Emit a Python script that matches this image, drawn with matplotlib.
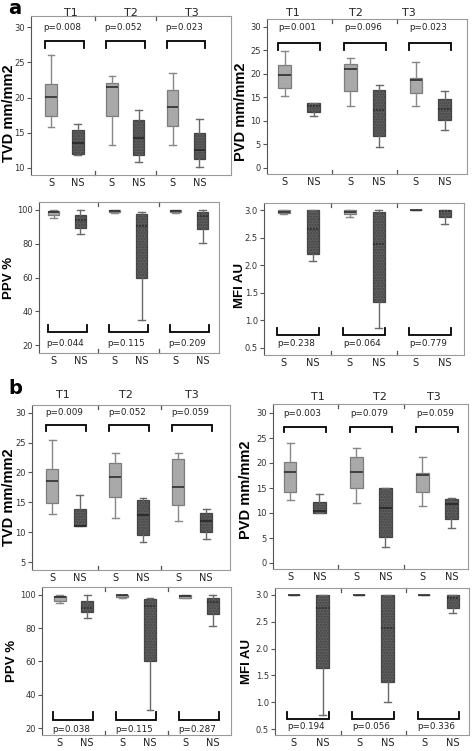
import matplotlib.pyplot as plt
from matplotlib.transforms import blended_transform_factory

W, H = 473, 751

time_points = ['T1', 'T2', 'T3']
arm_labels = ['S', 'NS', 'S', 'NS', 'S', 'NS']

# (low whisker, q1, median, q3, high whisker), order: T1 S, T1 NS, T2 S, T2 NS, T3 S, T3 NS
tvd_a = [[15.8, 17.4, 20.1, 22.0, 26.1], [11.9, 12.0, 13.5, 15.4, 16.2],
         [13.2, 17.4, 21.5, 22.1, 23.1], [10.9, 11.8, 14.2, 16.8, 18.3],
         [13.2, 15.9, 18.6, 21.1, 23.5], [10.1, 11.3, 12.6, 14.9, 17.0]]
pvd_a = [[15.4, 17.1, 19.7, 21.9, 24.9], [11.1, 11.8, 13.1, 13.8, 13.8],
         [13.1, 16.3, 21.1, 22.1, 23.3], [4.5, 6.8, 12.4, 16.6, 17.7],
         [13.1, 15.9, 18.8, 19.1, 22.5], [8.1, 10.2, 12.5, 14.6, 16.3]]
ppv_a = [[95.5, 97.0, 98.6, 99.4, 100], [85.6, 89.5, 94.1, 97.0, 100],
         [98.4, 99.0, 99.6, 99.8, 100], [34.8, 59.5, 90.7, 97.6, 98.6],
         [98.2, 98.6, 99.4, 99.8, 100], [80.6, 88.5, 96.4, 98.6, 100]]
mfi_a = [[2.93, 2.94, 2.96, 3.0, 3.0], [2.08, 2.20, 2.66, 3.0, 3.0],
         [2.87, 2.93, 2.96, 3.0, 3.0], [0.86, 1.34, 2.38, 2.97, 3.0],
         [3.0, 3.0, 3.0, 3.0, 3.0], [2.75, 2.88, 2.99, 3.0, 3.0]]
tvd_b = [[13.05, 14.9, 18.6, 20.6, 25.4], [11.1, 11.1, 11.1, 13.8, 16.3],
         [12.4, 15.9, 19.3, 21.6, 23.3], [8.4, 9.5, 12.9, 15.4, 15.8],
         [11.9, 14.5, 17.6, 22.3, 23.3], [8.9, 10.0, 11.9, 13.2, 13.9]]
pvd_b = [[12.6, 14.2, 18.3, 20.2, 24.1], [10.0, 10.0, 10.4, 12.2, 13.8],
         [12.0, 15.1, 18.3, 21.2, 23.1], [3.2, 5.2, 11.0, 15.0, 15.1],
         [11.4, 14.2, 17.6, 18.0, 21.2], [7.0, 8.8, 11.8, 12.8, 13.0]]
ppv_b = [[95.0, 96.6, 98.6, 99.6, 100], [86.0, 89.6, 92.4, 96.4, 100],
         [98.4, 99.0, 99.8, 100, 100], [31.0, 60.6, 93.4, 97.4, 98.4],
         [98.0, 98.4, 99.4, 99.8, 100], [81.6, 88.4, 96.0, 98.4, 100]]
mfi_b = [[3.0, 3.0, 3.0, 3.0, 3.0], [0.77, 1.64, 2.75, 3.0, 3.0],
         [3.0, 3.0, 3.0, 3.0, 3.0], [1.01, 1.37, 2.38, 3.0, 3.0],
         [3.0, 3.0, 3.0, 3.0, 3.0], [2.66, 2.75, 2.94, 3.0, 3.0]]

p_tvd_a = ['p=0.008', 'p=0.052', 'p=0.023']
p_pvd_a = ['p=0.001', 'p=0.096', 'p=0.023']
p_ppv_a = ['p=0.044', 'p=0.115', 'p=0.209']
p_mfi_a = ['p=0.238', 'p=0.064', 'p=0.779']
p_tvd_b = ['p=0.009', 'p=0.052', 'p=0.059']
p_pvd_b = ['p=0.003', 'p=0.079', 'p=0.059']
p_ppv_b = ['p=0.038', 'p=0.115', 'p=0.287']
p_mfi_b = ['p=0.194', 'p=0.056', 'p=0.336']

tvd_ticks = [10, 15, 20, 25, 30]
tvd_b_ticks = [5, 10, 15, 20, 25, 30]
pvd_ticks = [0, 5, 10, 15, 20, 25, 30]
ppv_ticks = [20, 40, 60, 80, 100]
mfi_ticks = [0.5, 1.0, 1.5, 2.0, 2.5, 3.0]

# layout: frame in px (left, top, right, bottom), ylim, xlim, bracket (line, leg), p-text y,
# T-label x offsets + y px (or None), ylabel centre (axes fraction), dotted NS median
panels = [
    dict(data=tvd_a, p=p_tvd_a, label='TVD mm/mm2', ticks=tvd_ticks, fmt='%d', lsize=10.5,
         px=(31, 16, 231, 175), ylim=(9.0, 31.6), xlim=(-0.55, 2.74),
         br=(28.0, 27.0), py=30.0, tx=([0.1, 0.1, 0.1], 13), lab=(-0.112, 0.39), dot=False),
    dict(data=pvd_a, p=p_pvd_a, label='PVD mm/mm2', ticks=pvd_ticks, fmt='%d', lsize=10.5,
         px=(267, 19, 467, 174), ylim=(-1.3, 31.7), xlim=(-0.49, 2.56),
         br=(26.6, 25.0), py=29.9, tx=([-0.09, -0.13, -0.33], 13), lab=(-0.13, 0.40), dot=True),
    dict(data=ppv_a, p=p_ppv_a, label='PPV %', ticks=ppv_ticks, fmt='%d', lsize=9.5,
         px=(39, 202, 219, 353), ylim=(15.3, 104.7), xlim=(-0.46, 2.49),
         br=(27.9, 31.8), py=21.0, tx=None, lab=(-0.165, 0.50), dot=True),
    dict(data=mfi_a, p=p_mfi_a, label='MFI AU', ticks=mfi_ticks, fmt='%.1f', lsize=9.5,
         px=(264, 203, 464, 355), ylim=(0.37, 3.13), xlim=(-0.52, 2.51),
         br=(0.74, 0.86), py=0.57, tx=None, lab=(-0.12, 0.46), dot=True),
    dict(data=tvd_b, p=p_tvd_b, label='TVD mm/mm2', ticks=tvd_b_ticks, fmt='%d', lsize=10.5,
         px=(32, 405, 230, 570), ylim=(3.66, 31.3), xlim=(-0.54, 2.6),
         br=(28.0, 27.0), py=30.0, tx=([-0.05, -0.05, 0.0], 395), lab=(-0.116, 0.44), dot=False),
    dict(data=pvd_b, p=p_pvd_b, label='PVD mm/mm2', ticks=pvd_ticks, fmt='%d', lsize=10.5,
         px=(273, 404, 468, 569), ylim=(-1.2, 31.8), xlim=(-0.48, 2.47),
         br=(27.3, 26.2), py=29.8, tx=([0.2, 0.14, -0.05], 397), lab=(-0.138, 0.48), dot=False),
    dict(data=ppv_b, p=p_ppv_b, label='PPV %', ticks=ppv_ticks, fmt='%d', lsize=9.5,
         px=(42, 587, 231, 735), ylim=(15.8, 104.8), xlim=(-0.5, 2.51),
         br=(25.0, 29.4), py=19.0, tx=None, lab=(-0.159, 0.50), dot=True),
    dict(data=mfi_b, p=p_mfi_b, label='MFI AU', ticks=mfi_ticks, fmt='%.1f', lsize=9.5,
         px=(275, 588, 469, 735), ylim=(0.39, 3.13), xlim=(-0.51, 2.47),
         br=(0.69, 0.81), py=0.55, tx=None, lab=(-0.144, 0.50), dot=True),
]

fig = plt.figure(figsize=(W / 100, H / 100), dpi=100)
fig.patch.set_facecolor('white')

positions = [g + d for g in range(3) for d in (-0.22, 0.22)]

for pan in panels:
    l, t, r, b = pan['px']
    ax = fig.add_axes([l / W, 1 - b / H, (r - l) / W, (b - t) / H])
    stats = [dict(whislo=s[0], q1=s[1], med=s[2], q3=s[3], whishi=s[4], fliers=[])
             for s in pan['data']]
    bp = ax.bxp(stats, positions=positions, widths=0.19, capwidths=0.11,
                patch_artist=True, showfliers=False, manage_ticks=False)
    for i, box in enumerate(bp['boxes']):
        if i % 2 == 0:
            box.set_facecolor('#a9a9a9')
            box.set_edgecolor('#7c7c7c')
            wc = '#888888'
        else:
            box.set_facecolor('#5e5e5e')
            box.set_edgecolor('#454545')
            box.set_hatch('......')
            wc = '#6a6a6a'
        box.set_linewidth(0.9)
        for w in bp['whiskers'][2 * i:2 * i + 2] + bp['caps'][2 * i:2 * i + 2]:
            w.set_color(wc)
            w.set_linewidth(1.0)
        med = bp['medians'][i]
        med.set_color('#222222')
        med.set_linewidth(1.1)
        if i % 2 == 1 and pan['dot']:
            med.set_linestyle((0, (1, 1)))

    ax.set_xlim(*pan['xlim'])
    ax.set_ylim(*pan['ylim'])
    ax.set_xticks(positions)
    ax.set_xticklabels(arm_labels, fontsize=7, color='#222222')
    ax.tick_params(axis='x', length=0, pad=2)
    ax.set_yticks(pan['ticks'])
    ax.set_yticklabels([pan['fmt'] % v for v in pan['ticks']], fontsize=6, color='#333333')
    ax.tick_params(axis='y', length=3, width=0.8, color='#555555', pad=1.5)
    # group separators on top and bottom spines
    sep = blended_transform_factory(ax.transData, ax.transAxes)
    for x in (0.5, 1.5):
        ax.plot([x, x], [0, 0.025], transform=sep, color='#555555', lw=0.9, clip_on=False)
        ax.plot([x, x], [0.975, 1], transform=sep, color='#555555', lw=0.9, clip_on=False)
    for sp in ax.spines.values():
        sp.set_color('#9a9a9a')
        sp.set_linewidth(0.8)
    ax.spines['left'].set_color('#555555')

    line_y, leg_y = pan['br']
    for g in range(3):
        ax.plot([g - 0.32, g - 0.32, g + 0.32, g + 0.32], [leg_y, line_y, line_y, leg_y],
                color='black', lw=1.3, solid_joinstyle='miter')
        ax.text(g - 0.03, pan['py'], pan['p'][g], fontsize=6.3, ha='center', va='center',
                color='#222222')

    if pan['tx'] is not None:
        offs, ypx = pan['tx']
        yfrac = 1 + (t - ypx) / (b - t)
        for g in range(3):
            ax.text(g + offs[g], yfrac, time_points[g], fontsize=8, ha='center', va='center',
                    transform=sep, color='#222222')

    ax.set_ylabel(pan['label'], fontsize=pan['lsize'], fontweight='bold',
                  family='Liberation Sans', va='center')
    ax.yaxis.set_label_coords(*pan['lab'])

fig.text(8 / W, 1 - 9 / H, 'a', fontsize=14, fontweight='bold', va='center', ha='left')
fig.text(8 / W, 1 - 388 / H, 'b', fontsize=14, fontweight='bold', va='center', ha='left')

fig.savefig('out.png', dpi=100, facecolor='white')
